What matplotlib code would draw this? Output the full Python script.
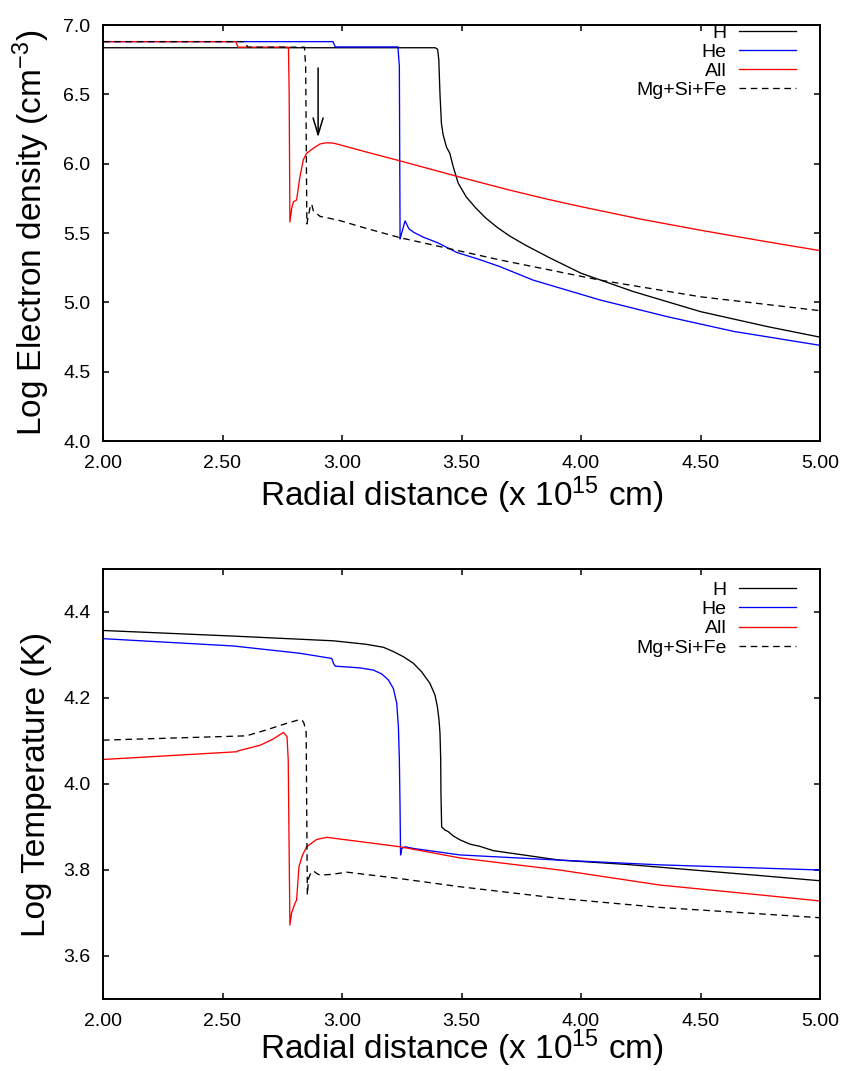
import matplotlib
matplotlib.use("Agg")
import matplotlib.pyplot as plt
import numpy as np

plt.rcParams['font.family'] = ['Liberation Sans', 'DejaVu Sans']
plt.rcParams['mathtext.fontset'] = 'custom'
plt.rcParams['mathtext.rm'] = 'Liberation Sans'
plt.rcParams['mathtext.it'] = 'Liberation Sans:italic'
plt.rcParams['mathtext.bf'] = 'Liberation Sans:bold'

# ---------------- Data: electron density (top) ----------------
ne_H_r = [2.00, 3.39, 3.40, 3.405, 3.41, 3.416, 3.423, 3.437, 3.451, 3.465, 3.486, 3.52,
          3.56, 3.60, 3.65, 3.70, 3.77, 3.87, 4.00, 4.22, 4.50, 4.78, 5.00]
ne_H_v = [6.836, 6.836, 6.825, 6.75, 6.50, 6.29, 6.21, 6.12, 6.075, 5.98, 5.86, 5.76,
          5.68, 5.61, 5.54, 5.48, 5.41, 5.32, 5.21, 5.077, 4.933, 4.825, 4.749]

ne_He_r = [2.00, 2.962, 2.972, 3.234, 3.240, 3.243, 3.248, 3.264, 3.28, 3.30, 3.34, 3.40,
           3.48, 3.58, 3.66, 3.80, 4.08, 4.36, 4.64, 5.00]
ne_He_v = [6.88, 6.88, 6.842, 6.842, 6.70, 5.457, 5.49, 5.587, 5.53, 5.505, 5.47, 5.43,
           5.36, 5.306, 5.258, 5.16, 5.017, 4.897, 4.79, 4.69]

ne_All_r = [2.00, 2.555, 2.565, 2.776, 2.779, 2.782, 2.7895, 2.797, 2.810, 2.824, 2.838,
            2.852, 2.880, 2.908, 2.936, 2.965, 3.10, 3.243, 3.50, 3.70, 3.856, 4.00, 4.25,
            4.50, 4.75, 5.00]
ne_All_v = [6.88, 6.88, 6.84, 6.84, 6.50, 5.58, 5.678, 5.726, 5.738, 5.906, 6.027,
            6.075, 6.111, 6.142, 6.151, 6.148, 6.085, 6.02, 5.90, 5.81, 5.745, 5.69, 5.60,
            5.52, 5.445, 5.373]

ne_Met_r = [2.00, 2.595, 2.605, 2.843, 2.848, 2.853, 2.860, 2.866, 2.873, 2.880, 2.908,
            2.964, 2.99, 3.10, 3.243, 3.66, 4.08, 4.50, 5.00]
ne_Met_v = [6.88, 6.88, 6.84, 6.84, 6.70, 5.565, 5.63, 5.68, 5.71, 5.66, 5.62,
            5.60, 5.59, 5.534, 5.466, 5.306, 5.16, 5.04, 4.94]

# ---------------- Data: temperature (bottom) ----------------
T_H_r = [2.00, 2.545, 2.964, 3.10, 3.173, 3.215, 3.257, 3.298, 3.333, 3.368, 3.389, 3.399,
         3.406, 3.410, 3.413, 3.414, 3.417, 3.431, 3.445, 3.466, 3.494, 3.536, 3.577, 3.633,
         3.91, 4.19, 4.47, 4.75, 5.00]
T_H_v = [4.357, 4.344, 4.333, 4.325, 4.318, 4.308, 4.296, 4.281, 4.261, 4.234, 4.207, 4.18,
         4.149, 4.118, 4.056, 3.978, 3.90, 3.893, 3.889, 3.879, 3.870, 3.860, 3.855, 3.845,
         3.823, 3.813, 3.80, 3.787, 3.775]

T_He_r = [2.00, 2.545, 2.824, 2.957, 2.965, 2.972, 3.075, 3.131, 3.166, 3.194, 3.215, 3.229,
          3.236, 3.240, 3.243, 3.245, 3.25, 3.264, 3.30, 3.494, 3.91, 4.33, 5.00]
T_He_v = [4.338, 4.321, 4.304, 4.292, 4.28, 4.274, 4.27, 4.265, 4.256, 4.242, 4.222, 4.188,
          4.133, 4.056, 3.94, 3.835, 3.85, 3.854, 3.85, 3.835, 3.823, 3.812, 3.80]

T_All_r = [2.00, 2.56, 2.565, 2.657, 2.71, 2.755, 2.77, 2.775, 2.782, 2.789, 2.803, 2.81,
           2.82, 2.835, 2.852, 2.894, 2.936, 3.243, 3.494, 3.91, 4.33, 4.75, 5.00]
T_All_v = [4.057, 4.075, 4.077, 4.09, 4.104, 4.12, 4.11, 4.056, 3.672, 3.70, 3.722, 3.73,
           3.808, 3.835, 3.854, 3.871, 3.876, 3.854, 3.828, 3.80, 3.765, 3.742, 3.728]

T_Met_r = [2.00, 2.60, 2.685, 2.768, 2.824, 2.835, 2.841, 2.85, 2.855, 2.86, 2.867, 2.88,
           2.894, 2.908, 2.96, 3.02, 3.243, 3.494, 3.91, 4.33, 4.75, 5.00]
T_Met_v = [4.102, 4.112, 4.126, 4.141, 4.15, 4.147, 4.141, 4.12, 3.742, 3.78, 3.79, 3.798,
           3.792, 3.788, 3.79, 3.795, 3.78, 3.761, 3.734, 3.713, 3.698, 3.689]

labels = ["H", "He", "All", "Mg+Si+Fe"]
colors = ["#000000", "#0000ff", "#ff0000", "#000000"]
styles = ["-", "-", "-", "--"]

x_ticks = [2.0, 2.5, 3.0, 3.5, 4.0, 4.5, 5.0]
ne_ticks = [4.0, 4.5, 5.0, 5.5, 6.0, 6.5, 7.0]
T_ticks = [3.6, 3.8, 4.0, 4.2, 4.4]

arrow_r = 2.90
arrow_from = 6.69
arrow_to = 6.19

fig = plt.figure(figsize=(8.44, 10.71), dpi=100)
ax1 = fig.add_axes([103/844, 1-441/1071, 717/844, 416/1071])
ax2 = fig.add_axes([103/844, 1-999/1071, 717/844, 430/1071])

def style_axes(ax, pad):
    for s in ax.spines.values():
        s.set_linewidth(1.4)
    ax.tick_params(direction='in', length=4.5, width=1.1, top=True, right=True,
                   labelsize=14)
    ax.tick_params(axis='x', pad=10)
    ax.tick_params(axis='y', pad=9)
    ax.set_xlim(2.0, 5.0)
    ax.set_xticks(x_ticks)
    ax.set_xticklabels(["%.2f" % t for t in x_ticks])
    ax.set_xlabel(r"Radial distance (x 10$^{15}$ cm)", fontsize=24, labelpad=pad)

top_data = [(ne_H_r, ne_H_v), (ne_He_r, ne_He_v), (ne_All_r, ne_All_v), (ne_Met_r, ne_Met_v)]
bot_data = [(T_H_r, T_H_v), (T_He_r, T_He_v), (T_All_r, T_All_v), (T_Met_r, T_Met_v)]

for ax, data, pad in ((ax1, top_data, 2), (ax2, bot_data, -1.5)):
    for (r, v), lab, c, ls in zip(data, labels, colors, styles):
        kw = dict(color=c, lw=0.95, label=lab)
        if ls == "--":
            kw['dashes'] = (5.0, 3.5)
        ax.plot(r, v, **kw)
    style_axes(ax, pad)

ax1.set_ylim(4.0, 7.0)
ax1.set_yticks(ne_ticks)
ax1.set_yticklabels(["%.1f" % t for t in ne_ticks])
ax1.set_ylabel(r"Log Electron density (cm$^{-3}$)", fontsize=24, labelpad=8)

ax2.set_ylim(3.5, 4.5)
ax2.set_yticks(T_ticks)
ax2.set_yticklabels(["%.1f" % t for t in T_ticks])
ax2.set_ylabel("Log Temperature (K)", fontsize=24, labelpad=8)

ax1.annotate("", xy=(arrow_r, arrow_to), xytext=(arrow_r, arrow_from),
             arrowprops=dict(arrowstyle='->,head_length=1.2,head_width=0.36',
                             color='black', lw=1.1, shrinkA=0, shrinkB=0))

leg_kw = dict(loc='upper right', frameon=False, fontsize=14, markerfirst=False,
              handlelength=2.94, handletextpad=0.62, labelspacing=0.08,
              borderpad=0, borderaxespad=0)
ax1.legend(bbox_to_anchor=(0.9665, 1.002), **leg_kw)
ax2.legend(bbox_to_anchor=(0.9665, 0.971), **leg_kw)

fig.savefig("out.png", dpi=100)
